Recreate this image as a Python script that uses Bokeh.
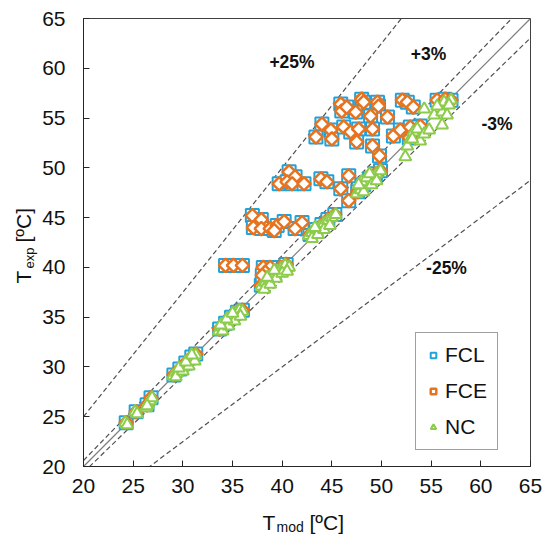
import math
from bokeh.plotting import figure
from bokeh.models import Range1d, FixedTicker, Label, Legend
from bokeh.layouts import row, column
from bokeh.embed import file_html
from bokeh.resources import INLINE

FONT = "Liberation Sans"

# ---------------- data ----------------
ticks = [20, 25, 30, 35, 40, 45, 50, 55, 60, 65]
ratios = [1.25, 1.03, 1.0, 0.97, 0.75]
ratio_dash = ["5 3", "5 3", "solid", "5 3", "5 3"]
ratio_labels = ["+25%", "+3%", "-3%", "-25%"]

nc_x = [24.2, 24.4, 25.2, 25.4, 26.3, 26.5, 26.7, 26.9, 26.4,
        29.0, 29.4, 29.8, 30.1, 30.4, 30.7, 31.0, 31.3, 29.3, 30.0, 30.6, 31.2, 29.6, 30.3, 30.9,
        33.6, 33.9, 34.2, 34.5, 34.8, 35.1, 35.4, 35.7, 36.0, 34.0, 34.6, 35.2, 35.8, 33.8, 34.4, 35.0,
        37.9, 38.3, 38.7, 39.1, 39.5, 39.9, 40.3, 40.7, 38.2, 38.8, 39.4, 40.0, 40.5, 38.5, 39.2,
        42.7, 43.0, 43.4, 43.8, 44.2, 44.6, 45.0, 45.4, 43.0, 43.6, 44.2, 44.8, 43.3,
        47.5, 47.9, 48.3, 48.7, 49.1, 49.5, 49.9, 48.0, 48.5, 49.0, 49.5, 48.2, 47.7, 48.8,
        52.4, 52.6, 52.9, 53.2, 53.6, 53.9, 54.3, 54.8, 55.3, 54.3, 56.1, 56.3, 57.0, 56.6, 56.1, 55.6, 56.8, 53.1]
nc_y = [24.4, 24.2, 25.5, 25.3, 25.9, 26.3, 26.6, 26.9, 26.1,
        29.1, 29.4, 29.7, 30.0, 30.3, 30.6, 30.9, 31.2, 29.0, 29.6, 30.1, 30.6, 29.9, 30.5, 31.2,
        33.6, 34.0, 34.3, 34.6, 34.9, 35.2, 35.5, 35.7, 35.6, 33.6, 34.1, 34.6, 35.1, 34.2, 34.8, 35.4,
        38.1, 38.5, 38.9, 39.3, 39.6, 39.9, 40.2, 40.0, 37.8, 38.3, 38.9, 39.4, 39.6, 39.0, 39.7,
        43.2, 43.5, 43.8, 44.1, 44.4, 44.7, 45.0, 45.3, 42.9, 43.3, 43.8, 44.2, 44.0,
        47.4, 47.8, 48.2, 48.6, 49.0, 49.4, 49.7, 48.6, 49.0, 48.3, 48.7, 47.6, 48.3, 49.4,
        51.1, 52.2, 52.9, 53.6, 53.9, 52.7, 53.4, 53.8, 55.3, 55.9, 55.6, 56.6, 56.8, 55.3, 54.3, 56.2, 56.3, 52.9]

fc_diag_x = [24.3, 25.3, 26.4, 26.8, 29.1, 29.7, 30.3, 30.9, 31.3, 33.7, 34.3, 34.9, 35.5, 36.0,
             37.9, 38.5, 39.2, 39.8, 40.4, 42.8, 43.4, 44.0, 44.6, 45.3, 47.6, 48.2, 48.8, 49.4, 49.9,
             52.8, 53.4, 53.9, 55.6, 56.4, 57.0]
fc_diag_y = [24.4, 25.5, 26.2, 26.9, 29.2, 29.8, 30.4, 31.0, 31.3, 33.8, 34.4, 35.0, 35.5, 35.7,
             38.2, 38.8, 39.4, 40.0, 40.3, 43.3, 43.8, 44.3, 44.8, 45.3, 47.6, 48.3, 48.9, 49.4, 49.7,
             53.0, 53.7, 54.2, 56.8, 56.9, 56.8]

fc_off_x = [45.9, 46.0, 46.5, 48.0, 48.2, 47.4, 49.6, 49.7, 48.9, 50.6, 52.1, 52.6, 53.2,
            44.0, 43.4, 44.9, 45.0, 46.2, 46.9, 47.7, 47.5, 49.1, 49.1, 49.8, 51.2, 51.9, 52.9, 53.2,
            40.7, 41.3, 39.7, 40.5, 41.0, 42.2, 43.9, 44.5, 45.9, 46.7, 46.7,
            37.0, 37.9, 37.1, 37.9, 38.8, 39.5, 40.2, 42.0, 41.3, 39.2,
            34.3, 35.1, 36.0, 38.1, 38.8, 38.3, 38.0]
fc_off_y = [56.4, 55.7, 56.1, 56.9, 56.6, 55.6, 56.6, 56.2, 55.2, 55.1, 56.8, 56.6, 56.1,
            54.4, 53.1, 53.8, 52.9, 54.1, 53.6, 53.9, 52.6, 53.9, 52.2, 51.2, 53.2, 53.8, 54.1, 53.4,
            49.6, 49.1, 48.4, 48.6, 48.4, 48.4, 48.9, 48.6, 47.9, 49.2, 46.7,
            45.2, 44.8, 44.0, 43.9, 43.9, 44.2, 44.6, 44.5, 43.9, 43.7,
            40.2, 40.2, 40.2, 40.0, 40.0, 39.5, 39.2]

fcl_x = fc_diag_x + fc_off_x
fcl_y = fc_diag_y + fc_off_y
fce_x = fc_diag_x + fc_off_x
fce_y = fc_diag_y + fc_off_y

# ---------------- layout sizes (pixels of the 544x534 page) ----------------
W, H = 544, 534
FRAME_L, FRAME_R, FRAME_T, FRAME_B = 83, 530, 18, 466
YLAB_W = 38          # strip holding the vertical axis title
XLAB_H = 28          # strip holding the horizontal axis title
MAIN_W = W - YLAB_W
MAIN_H = H - XLAB_H
BL, BR, BT, BB = FRAME_L - YLAB_W, W - FRAME_R, FRAME_T, MAIN_H - FRAME_B

# ---------------- main figure ----------------
X0, X1 = ticks[0], ticks[-1]
p = figure(width=MAIN_W, height=MAIN_H, x_range=Range1d(X0, X1), y_range=Range1d(X0, X1),
           output_backend="svg", toolbar_location=None,
           min_border_left=BL, min_border_right=BR, min_border_top=BT, min_border_bottom=BB)
p.background_fill_color = "white"
p.border_fill_color = "white"
p.xgrid.visible = False
p.ygrid.visible = False
p.outline_line_color = "#404040"
p.outline_line_width = 1

for ax in (p.xaxis[0], p.yaxis[0]):
    ax.ticker = FixedTicker(ticks=ticks)
    ax.major_tick_in = 6
    ax.major_tick_out = 0
    ax.minor_tick_line_color = None
    ax.axis_line_color = "#262626"
    ax.major_tick_line_color = "#262626"
    ax.major_label_text_font = FONT
    ax.major_label_text_font_size = "21px"
    ax.major_label_text_color = "#111111"
p.xaxis.major_label_standoff = 12
p.yaxis.major_label_standoff = 18

# reference lines
for r, d in zip(ratios, ratio_dash):
    if d == "solid":
        p.line([X0, X1], [r * X0, r * X1], line_color="#7f7f7f", line_width=1.2)
    else:
        p.line([X0, X1], [r * X0, r * X1], line_color="#505050", line_width=1.2, line_dash=d)

sq = p.scatter(fcl_x, fcl_y, marker="square", size=13, fill_color="white",
               line_color="#22A2DA", line_width=2)
dm = p.scatter(fce_x, fce_y, marker="square", angle=math.pi / 4, size=9.5, fill_color="white",
               line_color="#E8731E", line_width=2.5)
tr = p.scatter(nc_x, nc_y, marker="triangle", size=12, fill_color="white",
               line_color="#8DCB4B", line_width=2)

legend = Legend(items=[("FCL", [sq]), ("FCE", [dm]), ("NC", [tr])], location=(332, 16))
legend.label_text_font = FONT
legend.label_text_font_size = "21px"
legend.label_text_color = "#111111"
legend.glyph_width = 14
legend.glyph_height = 14
legend.spacing = 12
legend.padding = 10
legend.margin = 0
legend.label_standoff = 5
legend.border_line_color = "#404040"
legend.border_line_width = 1
legend.background_fill_alpha = 1
p.add_layout(legend)

def dx(px):
    return X0 + (px - FRAME_L) * (X1 - X0) / (FRAME_R - FRAME_L)

def dy(py):
    return X0 + (FRAME_B - py) * (X1 - X0) / (FRAME_B - FRAME_T)

label_pos = [(291.5, 61), (428, 53.5), (496.5, 123.5), (446, 267.5)]
for t, (lx, ly) in zip(ratio_labels, label_pos):
    p.add_layout(Label(x=dx(lx), y=dy(ly), text=t, text_font=FONT, text_font_style="bold",
                       text_font_size="17.5px", text_align="center", text_baseline="middle",
                       text_color="#111111"))

# ---------------- axis-title strips (borders equal to the main plot's) ----------------
def strip(w, h, xr, yr, bl, br, bt, bb):
    f = figure(width=w, height=h, x_range=Range1d(*xr), y_range=Range1d(*yr),
               output_backend="svg", toolbar_location=None,
               x_axis_location=None, y_axis_location=None,
               min_border_left=bl, min_border_right=br, min_border_top=bt, min_border_bottom=bb)
    f.xgrid.visible = False
    f.ygrid.visible = False
    f.outline_line_color = None
    f.background_fill_color = "white"
    f.border_fill_color = "white"
    return f

# horizontal title:  T_mod [ºC]   (x in page pixels, y measured up from the page bottom)
xl = strip(MAIN_W, XLAB_H, (FRAME_L, FRAME_R), (0, XLAB_H), BL, BR, 0, 0)
xl.add_layout(Label(x=262, y=H - 522, text="T", text_font=FONT, text_font_size="21px",
                    text_baseline="alphabetic", text_align="left", text_color="#111111"))
xl.add_layout(Label(x=276, y=H - 526, text="mod", text_font=FONT, text_font_size="14px",
                    text_baseline="alphabetic", text_align="left", text_color="#111111"))
xl.add_layout(Label(x=309, y=H - 522, text="[ºC]", text_font=FONT, text_font_size="21px",
                    text_baseline="alphabetic", text_align="left", text_color="#111111"))

# vertical title:  T_exp [ºC]   (x in page pixels, y measured up from the page bottom)
yl = strip(YLAB_W, H, (0, YLAB_W), (0, H - FRAME_T), 0, 0, FRAME_T, 0)
yl.add_layout(Label(x=23, y=H - 283, text="T", text_font=FONT, text_font_size="21px",
                    text_baseline="alphabetic", text_align="left", angle=math.pi / 2,
                    text_color="#111111"))
yl.add_layout(Label(x=28.5, y=H - 268, text="exp", text_font=FONT, text_font_size="13px",
                    text_baseline="alphabetic", text_align="left", angle=math.pi / 2,
                    text_color="#111111"))
yl.add_layout(Label(x=23, y=H - 242, text="[ºC]", text_font=FONT, text_font_size="21px",
                    text_baseline="alphabetic", text_align="left", angle=math.pi / 2,
                    text_color="#111111"))

layout = row(yl, column(p, xl, spacing=0), spacing=0)
open("out.html", "w").write(file_html(layout, INLINE))
